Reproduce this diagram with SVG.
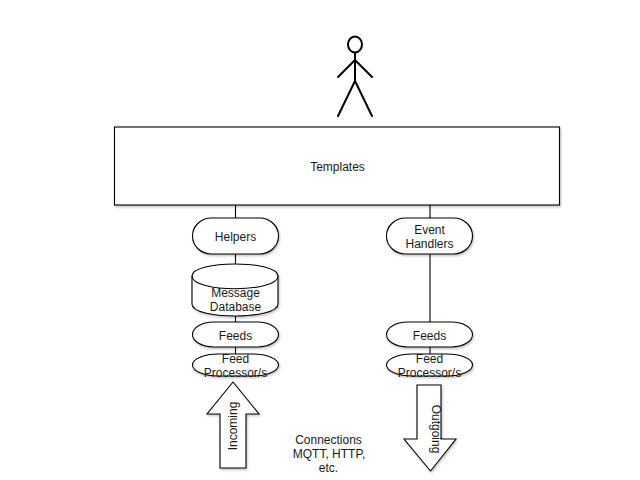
<svg xmlns="http://www.w3.org/2000/svg" width="640" height="480" viewBox="0 0 640 480">
<defs>
<filter id="sh" x="-10%" y="-10%" width="125%" height="125%"><feDropShadow dx="1" dy="1.500" stdDeviation="1" flood-color="#000" flood-opacity="0.250"/></filter>
</defs>
<style>
.s{fill:#fff;stroke:#000;stroke-width:1.100;filter:url(#sh)}
.c{fill:none;stroke:#000;stroke-width:1.100}
.a{fill:none;stroke:#000;stroke-width:2;stroke-linecap:round}
text{font-family:"Liberation Sans",Arial,sans-serif;font-size:12px;fill:#1a1a1a;text-anchor:middle}
</style>
<rect width="640" height="480" fill="#fff"/>
<g id="connectors">
<path class="c" d="M235.500 205V218M235.500 254V265M235.500 315V323M235.500 347V354M430 205V218M430 254V323M430 347V354"/>
</g>
<g id="actor">
<ellipse cx="355" cy="44.500" rx="7" ry="8" fill="#fff" stroke="#000" stroke-width="2"/>
<path class="a" d="M355 53V81M355 60L338 77M355 60L372 77M355 81L338 116M355 81L372 116"/>
</g>
<g id="templates">
<rect class="s" x="114.500" y="127" width="445" height="78"/>
<text x="337.500" y="171">Templates</text>
</g>
<g id="helpers">
<rect class="s" x="192.500" y="218" width="86" height="36" rx="19" ry="18"/>
<text x="235.500" y="241">Helpers</text>
</g>
<g id="database">
<path class="s" d="M192 276C192 260 278 260 278 276V304C278 320 192 320 192 304Z"/>
<path class="c" d="M192 276C192 293 278 293 278 276"/>
<text x="235.500" y="297">Message</text>
<text x="235.500" y="311">Database</text>
</g>
<g id="feeds-left">
<rect class="s" x="192.500" y="322" width="86" height="25" rx="21" ry="12.500"/>
<text x="235.500" y="340">Feeds</text>
</g>
<g id="processor-left">
<rect class="s" x="192.500" y="354" width="86" height="22" rx="26" ry="11"/>
<text x="235.500" y="363">Feed</text>
<text x="235.500" y="377">Processor/s</text>
</g>
<g id="event-handlers">
<rect class="s" x="386.500" y="218" width="86" height="36" rx="19" ry="18"/>
<text x="429.500" y="234">Event</text>
<text x="429.500" y="248">Handlers</text>
</g>
<g id="feeds-right">
<rect class="s" x="386.500" y="322" width="86" height="25" rx="21" ry="12.500"/>
<text x="429.500" y="340">Feeds</text>
</g>
<g id="processor-right">
<rect class="s" x="386.500" y="354" width="86" height="22" rx="26" ry="11"/>
<text x="429.500" y="363">Feed</text>
<text x="429.500" y="377">Processor/s</text>
</g>
<g id="incoming">
<path class="s" d="M220 468V414H207L233 382L259 414H246V468Z"/>
<text transform="translate(237 426) rotate(-90)">Incoming</text>
</g>
<g id="outgoing">
<path class="s" d="M417 385H441V439H456L430.500 471L404 439H417Z"/>
<text transform="translate(432 429) rotate(90)">Outgoing</text>
</g>
<g id="connections">
<text x="328.500" y="444">Connections</text>
<text x="329" y="458">MQTT, HTTP,</text>
<text x="328.500" y="472">etc.</text>
</g>
</svg>
